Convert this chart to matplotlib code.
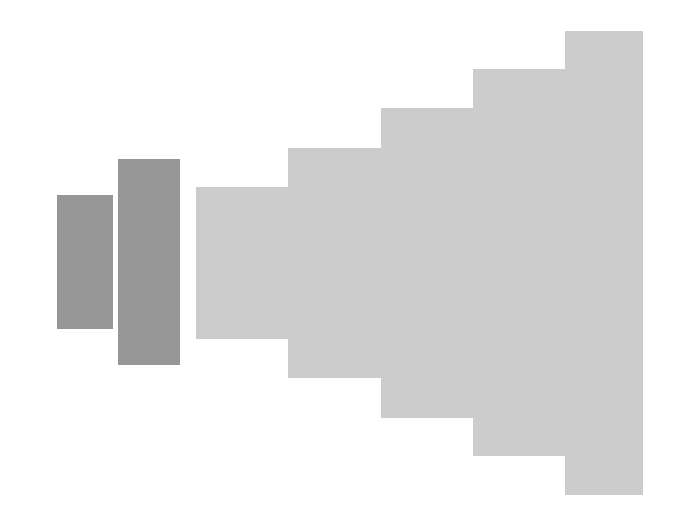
import matplotlib
matplotlib.use("Agg")
import matplotlib.pyplot as plt

# Dark group: left edge, width, lower edge and height of each bar
dark_left = [57, 118]
dark_width = [56, 62]
dark_bottom = [-67, -103]
dark_height = [134, 206]

# Light group: stepped bars
light_left = [196, 288, 381, 473, 565]
light_width = [92, 93, 92, 92, 78]
light_bottom = [-77, -116, -156, -194, -233]
light_height = [152, 230, 310, 387, 464]

fig = plt.figure(figsize=(7, 5.25), dpi=100)
ax = fig.add_axes([0, 0, 1, 1])
ax.set_xlim(0, 700)
ax.set_ylim(-263, 262)
ax.axis("off")

ax.bar(dark_left, dark_height, width=dark_width, align="edge",
       bottom=dark_bottom, color="#969696", linewidth=0)
ax.bar(light_left, light_height, width=light_width, align="edge",
       bottom=light_bottom, color="#cccccc", linewidth=0)

fig.savefig("out.png", dpi=100)
